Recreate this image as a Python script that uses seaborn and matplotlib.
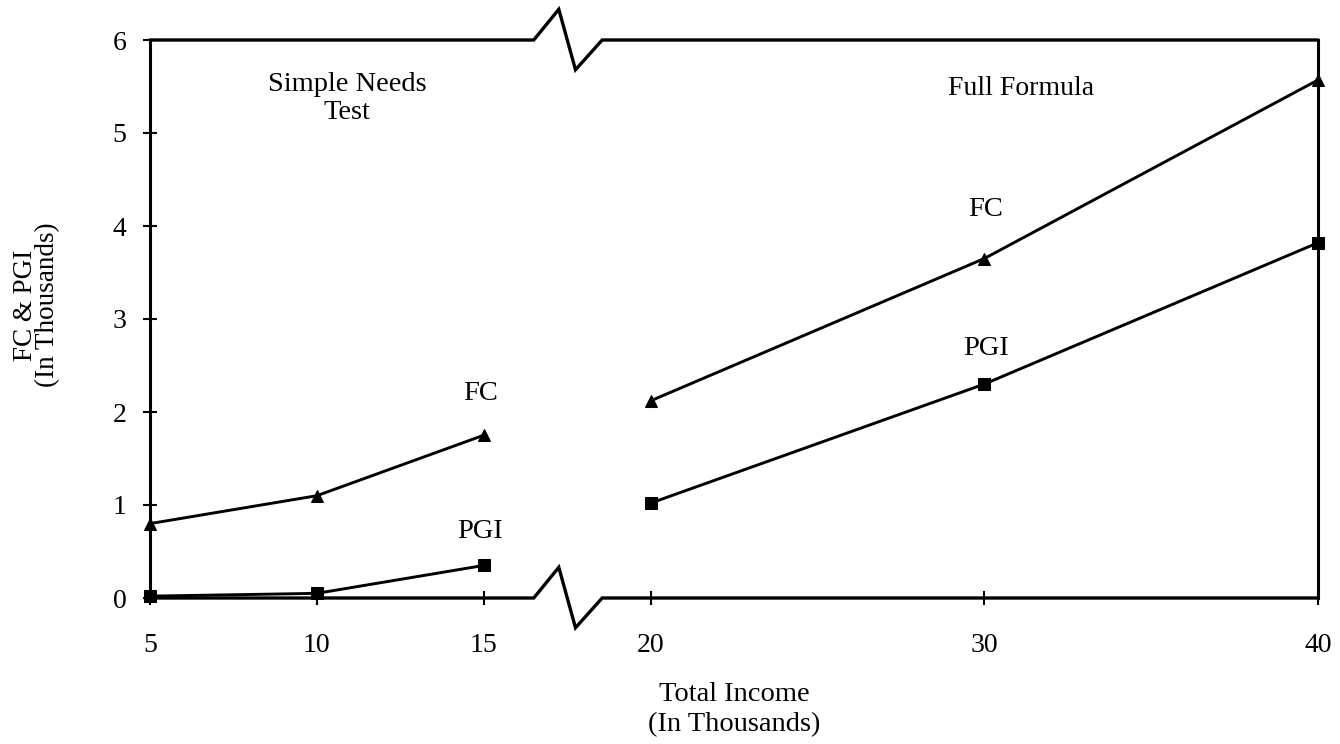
import matplotlib
matplotlib.use("Agg")
import matplotlib.pyplot as plt
import pandas as pd
import seaborn as sns

# left part: simple needs test, right part: full formula
INCOME_LEFT = [5, 10, 15]
FC_LEFT = [0.80, 1.10, 1.75]
PGI_LEFT = [0.02, 0.05, 0.35]
INCOME_RIGHT = [20, 30, 40]
FC_RIGHT = [2.12, 3.65, 5.57]
PGI_RIGHT = [1.02, 2.30, 3.82]
X_TICKS = [5, 10, 15, 20, 30, 40]
Y_TICKS = [0, 1, 2, 3, 4, 5, 6]


def build_df():
    rows = []
    for seg, xs, fc, pgi in [("left", INCOME_LEFT, FC_LEFT, PGI_LEFT),
                             ("right", INCOME_RIGHT, FC_RIGHT, PGI_RIGHT)]:
        for x, a, b in zip(xs, fc, pgi):
            rows.append({"income": x, "value": a, "series": "FC", "seg": seg})
            rows.append({"income": x, "value": b, "series": "PGI", "seg": seg})
    return pd.DataFrame(rows)


def main():
    sns.set_theme(style="white")
    plt.rcParams["font.family"] = ["Liberation Serif", "DejaVu Serif"]
    plt.rcParams["text.color"] = "black"
    df = build_df()

    fig = plt.figure(figsize=(13.4, 7.44), dpi=100)
    ax = fig.add_axes([150 / 1340, 1 - 598 / 744, 1168 / 1340, 558 / 744])

    markers = {"FC": "^", "PGI": "s"}
    for (series, seg), part in df.groupby(["series", "seg"]):
        sns.lineplot(data=part, x="income", y="value", ax=ax, color="black",
                     linewidth=2.1, marker=markers[series], markersize=9,
                     markeredgecolor="black", estimator=None, clip_on=False,
                     legend=False)

    ax.set_xlim(5, 40)
    ax.set_ylim(0, 6)
    ax.set_xticks(X_TICKS)
    ax.set_yticks(Y_TICKS)
    ax.tick_params(bottom=True, left=True, direction="inout", length=10,
                   width=1.5, colors="black", labelsize=20, labelcolor="black")
    ax.tick_params(axis="x", pad=20)
    ax.tick_params(axis="y", pad=12)
    ax.set_xlabel("Total Income\n(In Thousands)", fontsize=20.5,
                  linespacing=1.3, color="black")
    ax.set_ylabel("FC & PGI\n(In Thousands)", fontsize=19.5,
                  linespacing=0.85, color="black")
    ax.xaxis.set_label_coords(0.5, -0.15)
    ax.yaxis.set_label_coords(-0.077, 0.525)

    # frame with axis breaks on top and bottom
    for side in ["top", "bottom"]:
        ax.spines[side].set_visible(False)
    for side in ["left", "right"]:
        ax.spines[side].set_linewidth(2.2)
        ax.spines[side].set_color("black")
    for y0 in [0, 6]:
        ax.plot([5, 16.5, 17.25, 17.75, 18.55, 40],
                [y0, y0, y0 + 0.33, y0 - 0.32, y0, y0],
                color="black", linewidth=2.4, clip_on=False,
                solid_joinstyle="miter")

    ax.text(10.9, 5.37, "Simple Needs\nTest", ha="center", va="center",
            fontsize=20.5, linespacing=1.15)
    ax.text(31.1, 5.48, "Full Formula", ha="center", va="center", fontsize=20)
    ax.text(14.9, 2.20, "FC", ha="center", va="center", fontsize=20.5)
    ax.text(14.9, 0.71, "PGI", ha="center", va="center", fontsize=20.5)
    ax.text(30.05, 4.18, "FC", ha="center", va="center", fontsize=20.5)
    ax.text(30.05, 2.68, "PGI", ha="center", va="center", fontsize=20.5)

    fig.savefig("out.png", dpi=100)


if __name__ == "__main__":
    main()
